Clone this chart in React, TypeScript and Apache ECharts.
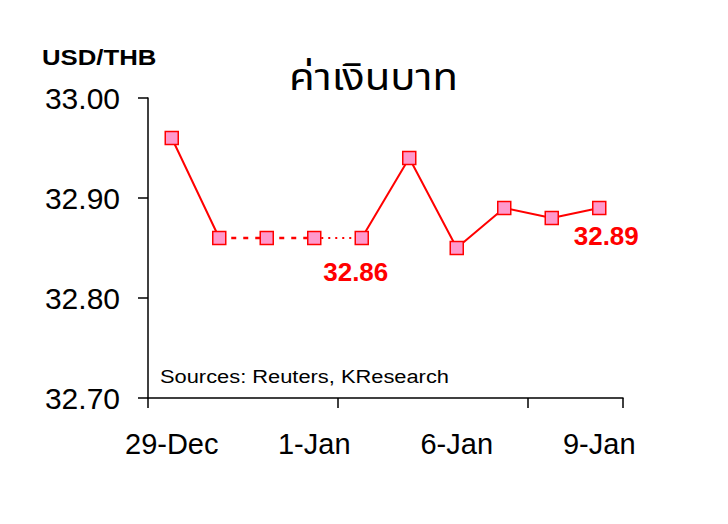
import React, { useEffect, useRef } from "react";
import * as echarts from "echarts";

const categories = ["29-Dec", "30-Dec", "31-Dec", "1-Jan", "2-Jan", "5-Jan", "6-Jan", "7-Jan", "8-Jan", "9-Jan"];
const usdThb = [32.96, 32.86, 32.86, 32.86, 32.86, 32.94, 32.85, 32.89, 32.88, 32.89];
const dashedRange = [1, 3];
const dottedRange = [3, 4];
const labelledIdx = [4, 9];
const yTicks = { min: 32.7, max: 33.0, interval: 0.1 };

const RED = "#FF0000";
const PINK = "#FF99CC";
const FONT = "Liberation Sans, Arial, sans-serif";

function pick(from: number, to: number) {
  return usdThb.map((v, i) => (i >= from && i <= to ? v : null));
}

export default function App() {
  const ref = useRef<HTMLDivElement>(null);
  useEffect(() => {
    const chart = echarts.init(ref.current!, undefined, { renderer: "svg" });
    const solid = usdThb.map((v, i) => (i <= dashedRange[0] || i >= dottedRange[1] ? v : null));
    chart.setOption({
      animation: false,
      backgroundColor: "#fff",
      grid: { left: 148, right: 105, top: 98, bottom: 126 },
      xAxis: {
        type: "category",
        data: categories,
        boundaryGap: true,
        axisLine: { lineStyle: { color: "#000", width: 1.5 } },
        axisTick: { show: true, interval: 3, length: 10, lineStyle: { color: "#000", width: 1.5 } },
        axisLabel: { interval: 2, margin: 31, fontSize: 29, color: "#000", fontFamily: FONT },
      },
      yAxis: {
        type: "value",
        min: yTicks.min,
        max: yTicks.max,
        interval: yTicks.interval,
        splitLine: { show: false },
        axisLine: { show: true, lineStyle: { color: "#000", width: 1.5 } },
        axisTick: { show: true, length: 10, lineStyle: { color: "#000", width: 1.5 } },
        axisLabel: {
          margin: 28,
          fontSize: 30,
          color: "#000",
          fontFamily: FONT,
          formatter: (v: number) => v.toFixed(2),
        },
      },
      series: [
        {
          type: "line",
          data: solid,
          showSymbol: false,
          connectNulls: false,
          lineStyle: { color: RED, width: 2 },
        },
        {
          type: "line",
          data: pick(dashedRange[0], dashedRange[1]),
          showSymbol: false,
          lineStyle: { color: RED, width: 2.5, type: [5, 7] },
        },
        {
          type: "line",
          data: pick(dottedRange[0], dottedRange[1]),
          showSymbol: false,
          lineStyle: { color: RED, width: 2, type: [2, 5] },
        },
        {
          type: "line",
          data: usdThb.map((v, i) =>
            labelledIdx.includes(i)
              ? {
                  value: v,
                  label: {
                    show: true,
                    position: "bottom",
                    distance: 12,
                    offset: i === 4 ? [-6, 2] : [7, -4],
                    formatter: (p: any) => Number(p.value).toFixed(2),
                    color: RED,
                    fontWeight: "bold",
                    fontSize: 26,
                    fontFamily: FONT,
                  },
                }
              : v
          ),
          symbol: "rect",
          symbolSize: 13,
          showAllSymbol: true,
          lineStyle: { opacity: 0 },
          itemStyle: { color: PINK, borderColor: RED, borderWidth: 1.5 },
          z: 5,
        },
      ],
      graphic: [
        {
          type: "text",
          x: 42,
          y: 45,
          scaleX: 1.12,
          style: { text: "USD/THB", fontSize: 23, fontWeight: "bold", fill: "#000", fontFamily: FONT },
        },
        {
          type: "text",
          x: 289,
          y: 60,
          scaleX: 1.1,
          style: { text: "ค่าเงินบาท", fontSize: 38, fill: "#000", fontFamily: "Noto Sans Thai, Tahoma, DejaVu Sans, sans-serif" },
        },
        {
          type: "text",
          x: 160,
          y: 367,
          scaleX: 1.15,
          style: { text: "Sources: Reuters, KResearch", fontSize: 19, fill: "#000", fontFamily: FONT },
        },
      ],
    });
    return () => chart.dispose();
  }, []);
  return <div ref={ref} style={{ position: "fixed", left: 0, top: 0, width: 728, height: 524 }} />;
}
